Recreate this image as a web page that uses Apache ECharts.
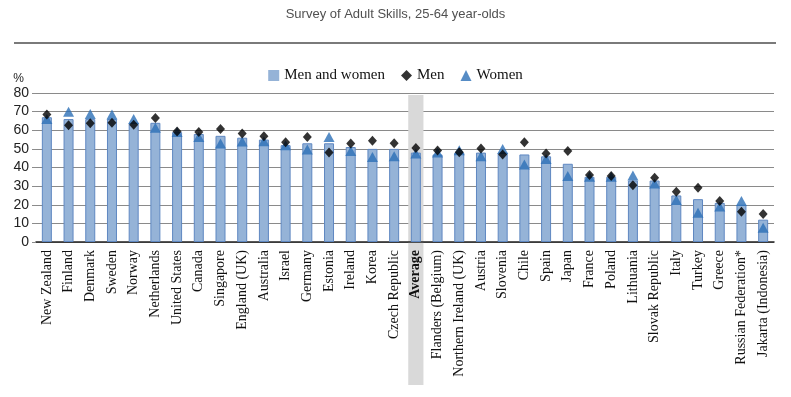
<!DOCTYPE html>
<html>
<head>
<meta charset="utf-8">
<script src="https://cdn.jsdelivr.net/npm/echarts@6/dist/echarts.min.js"></script>
<style>
  html, body { margin: 0; padding: 0; background: #fff; }
  #chart { width: 791px; height: 397px; }
</style>
</head>
<body>
<div id="chart"></div>
<script>
var countries = ['New Zealand', 'Finland', 'Denmark', 'Sweden', 'Norway', 'Netherlands',
    'United States', 'Canada', 'Singapore', 'England (UK)', 'Australia', 'Israel', 'Germany',
    'Estonia', 'Ireland', 'Korea', 'Czech Republic', 'Average', 'Flanders (Belgium)',
    'Northern Ireland (UK)', 'Austria', 'Slovenia', 'Chile', 'Spain', 'Japan', 'France',
    'Poland', 'Lithuania', 'Slovak Republic', 'Italy', 'Turkey', 'Greece',
    'Russian Federation*', 'Jakarta (Indonesia)'];
var menAndWomen = [67, 66, 66, 66, 64, 64, 59, 58, 57, 56, 55, 52, 53, 53, 51, 50, 50,
    48, 47, 48, 48, 48, 47, 46, 42, 35, 35, 33, 33, 25, 23, 21, 20, 12];
var men = [68.4, 62.7, 63.8, 64, 62.9, 66.6, 59.3, 59.1, 60.7, 58.2, 56.8, 53.6, 56.4, 48,
    52.9, 54.3, 53, 50.5, 49.1, 48.2, 50.2, 47, 53.6, 47.5, 48.8, 36, 35.4, 30.5, 34.5,
    27, 29.1, 22, 16.2, 15];
var women = [66, 70, 68.7, 68.4, 66, 61.3, 59, 56.4, 52.9, 54, 54.1, 52, 49.6, 56.4, 48.8,
    45.7, 46, 47.5, 48, 49.3, 46, 50, 41.6, 44.6, 35.4, 35, 35, 35.7, 31.4, 22.5, 15.7,
    19, 22, 7.7];
var yMax = 80;
var highlight = 'Average';

var chart = echarts.init(document.getElementById('chart'));

var option = {
    animation: false,
    title: {
        text: 'Survey of Adult Skills, 25-64 year-olds',
        left: 'center',
        top: 3,
        textStyle: { fontFamily: 'Liberation Sans', fontSize: 13, fontWeight: 'normal', color: '#505050' }
    },
    graphic: [{
        type: 'line',
        shape: { x1: 14, y1: 43, x2: 776, y2: 43 },
        style: { stroke: '#7a7a7a', lineWidth: 2 }
    }],
    legend: {
        top: 63,
        left: 'center',
        itemWidth: 11,
        itemHeight: 11,
        itemGap: 16,
        textStyle: { fontFamily: 'Liberation Serif', fontSize: 15, color: '#111' },
        data: [
            { name: 'Men and women', icon: 'rect', itemStyle: { borderWidth: 0 } },
            { name: 'Men', icon: 'diamond' },
            { name: 'Women', icon: 'triangle' }
        ]
    },
    grid: { left: 36, right: 17, top: 93, bottom: 155 },
    xAxis: {
        type: 'category',
        data: countries,
        axisLine: { lineStyle: { color: '#222', width: 1.5 } },
        axisTick: { show: false },
        axisLabel: {
            rotate: 90,
            interval: 0,
            margin: 8,
            fontFamily: 'Liberation Serif',
            fontSize: 14,
            color: '#111',
            formatter: function (v) {
                return v === highlight ? '{b|' + v + '}' : v;
            },
            rich: {
                b: { fontFamily: 'Liberation Serif', fontSize: 14, fontWeight: 'bold', color: '#111' }
            }
        }
    },
    yAxis: {
        type: 'value',
        min: 0,
        max: yMax,
        interval: 10,
        name: '%',
        nameLocation: 'end',
        nameGap: 8,
        nameTextStyle: { fontFamily: 'Liberation Sans', fontSize: 12, color: '#222', align: 'right', padding: [0, 12, 0, 0] },
        axisLine: { show: false },
        axisTick: { show: true, length: 4, lineStyle: { color: '#8c8c8c' } },
        axisLabel: { fontFamily: 'Liberation Sans', fontSize: 14, color: '#222', margin: 7 },
        splitLine: { lineStyle: { color: '#8a8a8a', width: 1.2 } }
    },
    series: [
        {
            name: 'band',
            type: 'custom',
            silent: true,
            clip: false,
            z: 0,
            data: [[countries.indexOf(highlight), yMax]],
            renderItem: function (params, api) {
                var top = api.coord([api.value(0), api.value(1)]);
                var base = api.coord([api.value(0), 0]);
                var w = api.size([1, 0])[0] * 0.7;
                return {
                    type: 'rect',
                    shape: { x: top[0] - w / 2, y: top[1] + 2, width: w, height: base[1] - top[1] + 141 },
                    style: { fill: '#d9d9d9' }
                };
            }
        },
        {
            name: 'Men and women',
            type: 'bar',
            data: menAndWomen,
            barWidth: 10,
            z: 2,
            itemStyle: { color: '#95b3d7', borderColor: '#5f88c2', borderWidth: 1 }
        },
        {
            name: 'Men',
            type: 'scatter',
            data: men,
            symbol: 'diamond',
            symbolSize: [9, 10],
            z: 4,
            itemStyle: { color: '#000' }
        },
        {
            name: 'Women',
            type: 'scatter',
            data: women,
            symbol: 'triangle',
            symbolSize: [11, 10],
            z: 3,
            itemStyle: { color: '#2c6fb7' }
        }
    ]
};

chart.setOption(option);
</script>
</body>
</html>
